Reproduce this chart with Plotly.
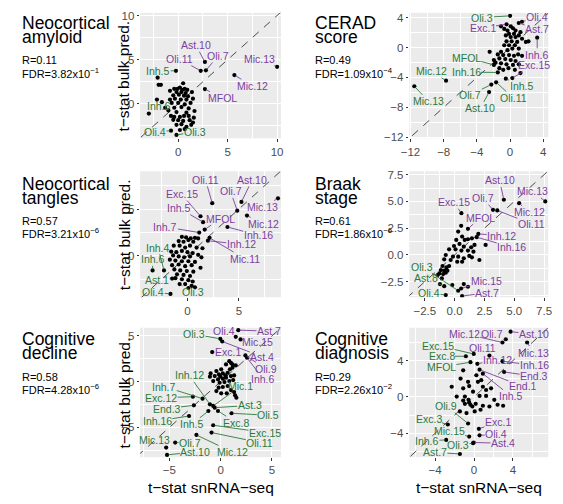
import plotly.graph_objects as go

W, H = 563, 504
FONT = "Liberation Sans, Arial, Helvetica, sans-serif"

# ---------------------------------------------------------------- data
# Each panel: t-statistics from snRNA-seq (x) vs. bulk-predicted t-statistics (y)

# Neocortical amyloid
amy_cells = ["Mic.13", "Mic.12", "MFOL", "Oli.7", "Oli.11", "Ast.10", "Inh.5", "Inh.6", "Oli.4", "Oli.3"]
amy_sn = [10.0, 5.68, 2.70, 2.80, 2.28, 2.70, -0.23, -2.97, -0.73, -0.17]
amy_bulk = [4.19, 3.26, 1.67, 3.80, 3.74, 4.74, 3.74, -1.10, -3.04, -3.52]
amy_grp = ["pos", "pos", "pos", "pos", "pos", "pos", "neg", "neg", "neg", "neg"]
amy_other_sn = [-2.08, 0.50, -1.75, -1.98, -0.40, -0.07, 0.17, 0.40, 0.66, 0.92, -0.83, -0.17, 0.33, 0.76,
                -0.50, 0.07, 0.59, 0.99, 1.39, -2.15, -0.83, -0.33, 0.26, 0.83, 1.49, -1.65, -0.66, 0.0,
                0.66, 1.25, -1.32, -0.40, 0.33, 1.06, -0.99, -0.17, 0.83, 1.65, -0.73, -0.40, 0.17, 0.59,
                1.06, 1.58, -0.50, 0.0, 0.50, 1.16, 1.49, -0.17, 0.33, 0.83, 1.32, 0.17, 0.66]
amy_other_bulk = [2.96, 2.33, 2.15, 2.15, 1.70, 1.70, 1.85, 1.59, 1.70, 1.59, 1.48, 1.33, 1.33, 1.22,
                  0.96, 1.04, 0.93, 0.85, 1.33, 0.48, 0.48, 0.59, 0.48, 0.48, 0.59, 0.19, 0.11, 0.11,
                  -0.07, 0.11, -0.44, -0.44, -0.37, -0.52, -0.74, -0.93, -1.0, -0.81, -1.37, -1.48, -1.48,
                  -1.37, -1.37, -1.56, -1.81, -1.85, -1.93, -1.85, -2.11, -2.37, -2.30, -2.59, -2.37,
                  -2.96, -2.85]

# CERAD score
cer_cells = ["Oli.3", "Oli.4", "Exc.1", "Ast.7", "Inh.6", "Exc.15", "Inh.5", "Oli.11", "Oli.7", "Ast.10",
             "Inh.16", "MFOL", "Mic.12", "Mic.13"]
cer_sn = [0.0, 1.44, -0.43, 1.05, 3.27, 0.27, -0.51, -1.68, -2.26, -2.53, -1.48, -1.95, -7.72, -11.54]
cer_bulk = [4.25, 3.46, 3.11, 3.29, 1.32, -4.08, -4.17, -4.65, -4.96, -5.96, -3.33, -2.32, -4.43, -5.18]
cer_grp = ["neg", "pos", "pos", "pos", "pos", "pos", "neg", "neg", "neg", "neg", "neg", "neg", "neg", "neg"]
cer_other_sn = [-1.09, -0.70, -0.31, 0.08, 0.35, 0.66, 0.47, -0.12, -0.51, 0.08, 0.66, 1.05, 1.25, 1.44,
                1.91, 2.22, -0.43, 0.19, 0.86, 0.58, -0.12, -0.70, 0.27, 1.05, -0.31, -1.09, -1.48, -0.82,
                -0.12, 0.47, 0.97, 1.44, -1.29, -0.58, 0.08, 0.66, -1.95, -2.46, -1.75, -1.09, -0.43, 0.35,
                1.05, -0.19, 0.58, -0.82, -1.29, 1.25]
cer_other_bulk = [2.85, 2.50, 2.28, 2.85, 2.59, 2.28, 1.84, 1.84, 1.62, 1.40, 1.40, 1.62, 2.06, 1.18,
                  0.75, 0.83, 0.83, 0.83, 0.75, 0.31, 0.31, 0.31, -0.13, -0.13, -0.35, -0.57, -0.92, -1.01,
                  -1.01, -1.10, -0.92, -1.10, -1.45, -1.54, -1.67, -1.80, -1.67, -0.57, -2.02, -2.11, -2.24,
                  -2.32, -2.24, -2.76, -2.98, -2.98, -2.76, -3.42]

# Neocortical tangles
tan_cells = ["Mic.13", "Ast.10", "Oli.7", "Mic.12", "Inh.16", "Oli.11", "Exc.15", "Inh.5", "MFOL", "Inh.7",
             "Inh.12", "Mic.11", "Inh.4", "Inh.6", "Ast.1", "Oli.4", "Oli.3"]
tan_sn = [8.8, 5.25, 4.84, 5.79, 3.89, 2.41, 1.27, 1.52, 1.68, 1.14, 1.99, 2.15, -2.28, -3.39, -1.49, -1.65, -0.76]
tan_bulk = [6.15, 5.77, 4.83, 4.30, 3.08, 5.63, 4.23, 3.60, 2.80, 2.48, 1.61, 1.92, -1.57, -1.57, -2.45, -4.09, -3.04]
tan_grp = ["pos", "pos", "pos", "pos", "pos", "pos", "pos", "pos", "pos", "pos", "pos", "pos",
           "neg", "neg", "neg", "neg", "neg"]
tan_other_sn = [-0.54, -0.13, 0.32, 0.73, -0.85, -0.38, 0.09, 0.57, 1.04, -1.33, -0.76, -0.22, 0.25, 0.89,
                1.46, -1.58, -1.08, -0.54, 0.0, 0.51, 1.04, -1.39, -0.85, -0.32, 0.25, 1.36, -1.71, -1.17,
                -0.54, 0.09, 0.73, -1.49, -0.85, -0.22, 0.41, 1.27, -1.27, -0.70, -0.06, 0.57, -1.01, -0.38,
                0.25, -0.54, 0.09, 0.51, -0.22, 0.41, 0.09, 0.73, -1.17]
tan_other_bulk = [2.03, 1.96, 1.85, 1.92, 1.57, 1.50, 1.68, 1.50, 1.85, 1.08, 1.08, 0.87, 1.08, 0.87,
                  0.80, 0.45, 0.38, 0.52, 0.38, 0.28, 0.10, 0.03, -0.07, -0.17, -0.07, -0.17, -0.42, -0.52,
                  -0.59, -0.59, -0.66, -1.01, -0.94, -1.12, -1.01, -1.29, -1.47, -1.57, -1.64, -1.71, -1.99,
                  -2.06, -2.17, -2.52, -2.62, -2.76, -3.04, -3.22, -3.46, -3.39, -2.41]

# Braak stage
brk_cells = ["Mic.13", "Ast.10", "Mic.12", "Oli.7", "Oli.11", "Exc.15", "MFOL", "Inh.12", "Inh.16", "Mic.15",
             "Ast.7", "Oli.3", "Ast.8", "Oli.4"]
brk_sn = [7.6, 4.13, 5.41, 3.22, 3.58, 0.57, 1.12, 1.99, 1.86, 0.55, 0.63, 0.30, -0.87, -0.74]
brk_bulk = [5.0, 5.16, 4.84, 4.22, 4.16, 3.91, 2.44, 1.97, 1.66, -3.13, -3.84, -3.34, -2.91, -3.75]
brk_grp = ["pos", "pos", "pos", "pos", "pos", "pos", "pos", "pos", "pos", "pos", "pos",
           "neg", "neg", "neg"]
brk_other_sn = [0.55, 0.30, 0.63, 0.14, 0.85, 1.12, 1.45, 0.41, -0.05, 0.77, 1.39, 1.67, 2.60, -0.46, 0.08,
                0.57, 1.12, 1.58, 1.23, -0.74, -0.14, 0.30, 0.77, 1.45, 2.08, -0.87, -0.33, 0.22, 0.63,
                -1.01, -0.68, -0.46, -1.15, -0.87, -0.60, -1.28, -0.96, -0.74, -1.42, -1.07, -1.23, -0.19,
                0.77, 1.12]
brk_other_bulk = [2.72, 2.19, 1.72, 1.41, 1.41, 1.47, 1.56, 1.03, 0.84, 0.78, 0.72, 0.94, 0.94, 0.53, 0.53,
                  0.41, 0.41, 0.31, -0.09, 0.0, -0.16, -0.16, -0.31, -0.22, -0.47, -0.41, -0.47, -0.63,
                  -0.63, -1.03, -1.16, -1.03, -1.41, -1.47, -1.47, -1.72, -1.78, -1.66, -1.88, -2.19, -2.72,
                  -2.81, -2.72, -2.97]

# Cognitive decline
dec_cells = ["Ast.7", "Oli.4", "Mic.15", "Ast.4", "Exc.1", "Oli.9", "Inh.6", "Oli.3", "Inh.12", "Mic.1",
             "Inh.7", "Exc.12", "End.3", "Inh.16", "Ast.3", "Oli.5", "Exc.8", "Inh.5", "Exc.15", "Oli.11",
             "Mic.12", "Oli.7", "Mic.13", "Ast.10"]
dec_sn = [1.73, 1.48, 1.95, 0.16, -0.82, 2.42, 2.58, -0.03, -1.04, -0.72, -1.76, -2.70, -2.61, -3.08,
          -0.57, 1.07, -0.25, -1.19, -0.72, -0.88, -2.36, -4.43, -5.31, -5.22]
dec_bulk = [5.64, 4.91, 4.62, 4.40, 3.24, 2.87, 2.62, 4.69, -2.47, -2.65, -1.85, -1.64, -2.58, -3.75,
            -2.84, -3.45, -3.20, -3.20, -4.76, -5.56, -5.82, -6.65, -7.20, -8.00]
dec_grp = ["pos", "pos", "pos", "pos", "pos", "pos", "pos",
           "neg", "neg", "neg", "neg", "neg", "neg", "neg", "neg", "neg", "neg", "neg", "neg", "neg",
           "neg", "neg", "neg", "neg"]
dec_other_sn = [-0.97, -1.04, -0.57, -0.16, 0.22, 0.69, 0.91, 1.16, 1.16, 0.85, 0.53, 0.06, -0.41, -0.25,
                0.22, 0.53, 1.01, 1.32, -0.72, -0.09, 0.38, 0.85, 1.23, -0.19, 0.22, 0.69, 1.01, 0.60,
                1.42, 1.54, 1.32, -0.41, 0.06, 1.01, 1.48, 0.47, -0.03]
dec_other_bulk = [0.91, 0.55, 0.62, 0.80, 0.91, 0.98, 1.35, 1.53, 1.89, 2.25, 1.89, 1.35, 1.16, 0.25,
                  0.33, 0.44, 0.62, 0.69, 0.07, -0.11, -0.04, 0.07, 0.18, -0.65, -0.58, -0.47, -0.91,
                  -1.27, -1.49, -1.75, -1.13, -1.02, -1.27, 2.07, 1.78, 0.69, 0.55]

# Cognitive diagnosis
dia_cells = ["Ast.10", "Oli.7", "Mic.12", "Mic.13", "Oli.11", "Inh.12", "Inh.16", "End.3", "End.1", "Inh.5",
             "Exc.1", "Oli.4", "Ast.4", "Exc.15", "Exc.8", "MFOL", "Oli.9", "Exc.3", "Mic.15", "Inh.6",
             "Oli.3", "Ast.7"]
dia_sn = [3.76, 3.26, 2.92, 5.45, 1.58, 0.34, 2.92, 3.09, 0.57, 0.91, 0.50, 0.57, -0.03, -0.03, -0.84,
          -0.37, -0.61, -2.69, -0.50, -2.86, -0.10, -1.45]
dia_bulk = [7.17, 6.34, 5.98, 5.98, 4.54, 3.64, 3.93, 2.74, 2.99, 2.56, -3.50, -4.22, -5.01, 4.72, 4.47,
            3.82, -2.92, -3.03, -4.36, -4.72, -5.08, -6.27]
dia_grp = ["pos", "pos", "pos", "pos", "pos", "pos", "pos", "pos", "pos", "pos", "pos", "pos", "pos",
           "neg", "neg", "neg", "neg", "neg", "neg", "neg", "neg", "neg"]
dia_other_sn = [-1.11, -1.38, -2.29, -1.11, -0.61, 0.24, 0.74, -0.50, 0.91, -0.10, 1.24, 1.75, 0.57, 1.24,
                -1.78, -0.94, -0.50, 0.17, -0.94, -0.17, 0.91, 1.58, 2.42, 2.08, 2.99, 0.67, -1.45, -0.37,
                -0.77, 0.07, 0.40, -1.11, -0.57]
dia_other_bulk = [2.92, 2.02, 1.12, 0.94, 1.66, 2.38, 1.84, 1.19, 1.12, 0.58, 0.76, 0.94, 0.11, 0.11, 0.04,
                  0.04, -0.61, -0.76, -0.76, -1.05, -0.97, -1.05, -0.86, -0.32, -0.97, -1.41, -1.59, -0.86,
                  -1.77, -1.59, 1.66, -0.40, -0.32]

# panel headings and statistics
trait_titles = [["Neocortical", "amyloid"], ["CERAD", "score"], ["Neocortical", "tangles"],
                ["Braak", "stage"], ["Cognitive", "decline"], ["Cognitive", "diagnosis"]]
trait_r = ["0.11", "0.49", "0.57", "0.61", "0.58", "0.29"]
trait_fdr_mant = ["3.82", "1.09", "3.21", "1.86", "4.28", "2.26"]
trait_fdr_exp = ["−1", "−4", "−6", "−6", "−6", "−2"]

# ---------------------------------------------------------------- style / layout
GRP_COLOR = {"pos": "#7b3f9e", "neg": "#2a7a3b"}

# label offsets (pixels, label centre relative to its point)
NUDGE = {
    "amy": [(-18, -7.7), (17.7, 10.7), (17.7, 9), (12.3, -14.3), (-21.3, -11.7), (-9, -16.7),
            (-17.7, 0), (10, -7.3), (-16, 1), (18.3, -3.3)],
    "cer": [(-27.7, 1.7), (15, -4.3), (-24, 3.3), (18.3, 6), (0, 17), (21.7, -12.7), (15.7, 7),
            (17.3, 15.7), (-21, 10), (-8.7, 16.3), (-31.7, -0.3), (-27.7, -7.3), (-15, -9.3), (14.3, 15)],
    "tan": [(-15, 8.7), (10.7, -22), (-6.7, -19.3), (16.7, 8.3), (30.7, 8.3), (-6.7, -23.3),
            (-19, -22.3), (-24, -14), (15.7, -11), (-33.7, -5.7), (33.3, 3.7), (35, 20.7),
            (-6, -22.7), (0, -11), (-15, 1.7), (-17.3, -1.7), (13, 8.3)],
    "brk": [(-12.3, -10), (-4.3, -19.3), (10, 9.3), (-10, -11.7), (34, 13.3), (-7.7, -11),
            (12.3, -11.3), (23.3, 1.7), (35, 10), (25, -7.7), (25, -3.3), (-36, -24), (-18.3, -7.7),
            (-16.7, -2.3)],
    "dec": [(30.7, 1), (-11.7, -5.7), (16.7, 2.7), (40, 15.3), (16, 0), (20.7, 13.3), (16, 21),
            (-26.3, -4.7), (-20.7, -29), (27.7, -20), (-38.3, -12), (-31.7, 1), (-27.3, 3.3),
            (-31.7, 5), (35, -2.3), (36.7, 2), (18.3, 11.7), (-16.7, 13.3), (51.7, 7.3), (48.3, 10),
            (35.7, 17), (15, 0), (-11.3, -7.3), (28.3, -3)],
    "dia": [(23.3, 2.7), (-13.3, -5.7), (-38.3, -9), (6.7, 10), (-6.7, -7.7), (20, -4), (31.7, 4.3),
            (30, 4.3), (43.3, 16.7), (28.3, 22.7), (19, -6.7), (16.7, -1), (29.3, 0.7), (-35.7, -8.3),
            (-24.3, 0), (-29, 5), (-21.7, -17.3), (-19.3, -5.7), (-20, -5.7), (-19.3, 1), (-15, 2),
            (-25, -1.7)],
}

# axis limits, tick spacing and tick label format per panel
AXES = {
    "amy": dict(xr=[-3.85, 10.4], yr=[-3.9, 10.3], dt=5, fmt=""),
    "cer": dict(xr=[-12.15, 4.6], yr=[-12.15, 4.65], dt=4, fmt=""),
    "tan": dict(xr=[-4.6, 9.1], yr=[-4.45, 9.05], dt=5, fmt=""),
    "brk": dict(xr=[-3.8, 7.85], yr=[-3.95, 7.82], dt=2.5, fmt=".1f"),
    "dec": dict(xr=[-7.85, 5.9], yr=[-8.25, 5.9], dt=5, fmt=""),
    "dia": dict(xr=[-6.65, 7.62], yr=[-6.62, 7.6], dt=4, fmt=""),
}

COL_PX = [(135, 279), (410, 552)]
ROW_PX = [(10, 137.5), (171, 299), (330, 461.5)]
TEXT_X = [12.0, 311.5]
# vertical centres: title line 1, title line 2, R, FDR
TEXT_Y = [(20.5, 35, 58, 71), (183.5, 198, 221.5, 233.5), (341, 356, 380.5, 392.5)]

PANELS = [
    ("amy", amy_cells, amy_sn, amy_bulk, amy_grp, amy_other_sn, amy_other_bulk),
    ("cer", cer_cells, cer_sn, cer_bulk, cer_grp, cer_other_sn, cer_other_bulk),
    ("tan", tan_cells, tan_sn, tan_bulk, tan_grp, tan_other_sn, tan_other_bulk),
    ("brk", brk_cells, brk_sn, brk_bulk, brk_grp, brk_other_sn, brk_other_bulk),
    ("dec", dec_cells, dec_sn, dec_bulk, dec_grp, dec_other_sn, dec_other_bulk),
    ("dia", dia_cells, dia_sn, dia_bulk, dia_grp, dia_other_sn, dia_other_bulk),
]

fig = go.Figure()
layout = {}


def paper_text(txt, px, py, size, xanchor="left", angle=0):
    fig.add_annotation(x=px / W, y=1 - py / H, xref="paper", yref="paper", text=txt, showarrow=False,
                       xanchor=xanchor, yanchor="middle", textangle=angle,
                       font=dict(family=FONT, size=size, color="black"))


for i, (key, cells, sn, bulk, grp, osn, obulk) in enumerate(PANELS):
    row, col = divmod(i, 2)
    suf = "" if i == 0 else str(i + 1)
    xa, ya = "x" + suf, "y" + suf
    ax_cfg = AXES[key]
    (px0, px1), (py0, py1) = COL_PX[col], ROW_PX[row]

    tickfont = dict(family=FONT, size=11.5, color="#4d4d4d")
    common = dict(showgrid=True, gridcolor="white", gridwidth=1.1, zeroline=False, showline=False,
                  ticks="outside", ticklen=2.5, tickwidth=1.1, tickcolor="#333333",
                  tickfont=tickfont, dtick=ax_cfg["dt"], tick0=0, tickformat=ax_cfg["fmt"],
                  fixedrange=True,
                  minor=dict(showgrid=True, gridcolor="white", gridwidth=0.5,
                             dtick=ax_cfg["dt"] / 2, tick0=0))
    layout["xaxis" + suf] = dict(common, domain=[px0 / W, px1 / W], range=ax_cfg["xr"], anchor=ya)
    layout["yaxis" + suf] = dict(common, domain=[1 - py1 / H, 1 - py0 / H], range=ax_cfg["yr"], anchor=xa)

    # y = x reference line
    lo = min(ax_cfg["xr"][0], ax_cfg["yr"][0]) - 1
    hi = max(ax_cfg["xr"][1], ax_cfg["yr"][1]) + 1
    fig.add_trace(go.Scatter(x=[lo, hi], y=[lo, hi], mode="lines", xaxis=xa, yaxis=ya,
                             line=dict(color="#3a3a3a", width=0.9, dash="8px,7px"),
                             hoverinfo="skip", showlegend=False))

    # all cell types
    fig.add_trace(go.Scatter(x=osn + sn, y=obulk + bulk, mode="markers", xaxis=xa, yaxis=ya,
                             marker=dict(color="black", size=4.2, line=dict(width=0)),
                             hoverinfo="skip", showlegend=False))

    # repelled labels
    for name, xv, yv, g, (dx, dy) in zip(cells, sn, bulk, grp, NUDGE[key]):
        c = GRP_COLOR[g]
        fig.add_annotation(x=xv, y=yv, xref=xa, yref=ya, text=name, showarrow=True,
                           ax=dx, ay=dy, arrowhead=0, arrowwidth=0.9, arrowcolor=c, standoff=1.5,
                           xanchor="center", yanchor="middle",
                           font=dict(family=FONT, size=10.5, color=c), borderpad=0)

    # heading block
    t1, t2, tr, tf = TEXT_Y[row]
    tx = TEXT_X[col]
    paper_text(trait_titles[i][0], tx, t1, 17.5)
    paper_text(trait_titles[i][1], tx, t2, 17.5)
    paper_text("R=" + trait_r[i], tx, tr, 11)
    paper_text("FDR=" + trait_fdr_mant[i] + "x10<sup>" + trait_fdr_exp[i] + "</sup>", tx, tf, 11)

    # axis titles: y on the left column, x on the bottom row
    if col == 0:
        paper_text("t−stat bulk pred.", 118.5, (py0 + py1) / 2, 15.5, xanchor="center", angle=-90)
    if row == 2:
        paper_text("t−stat snRNA−seq", (px0 + px1) / 2, 492, 15.5, xanchor="center")

fig.update_layout(width=W, height=H, margin=dict(l=0, r=0, t=0, b=0),
                  plot_bgcolor="#ebebeb", paper_bgcolor="white", showlegend=False, **layout)

fig.write_html("out.html")
